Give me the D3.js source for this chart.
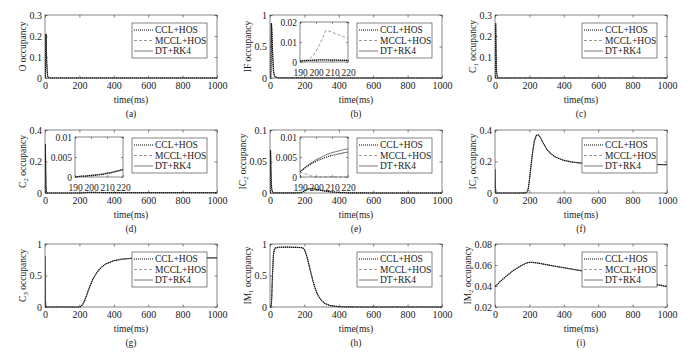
<!DOCTYPE html>
<html><head><meta charset="utf-8">
<script src="https://cdn.jsdelivr.net/npm/d3@7"></script>
<style>
body{margin:0;background:#fff}
svg{display:block}
</style>
</head><body>
<svg id="c" width="691" height="360"></svg>
<script>
// ---------------- DATA ----------------
const timeMs = [0,1,2,3,4,5,6,8,10,15,20,25,30,50,100,150,180,190,195,200,205,210,220,230,240,250,260,270,280,300,320,350,400,450,500,600,700,800,900,1000];

const occO   = [0,0.005,0.02,0.08,0.15,0.2,0.21,0.14,0.07,0.01,0.001,0,0,0,0,0,0,0,0,0,0,0,0,0,0,0,0,0,0,0,0,0,0,0,0,0,0,0,0,0];
const occIF  = [0,0,0.001,0.005,0.02,0.08,0.3,0.87,0.8,0.4,0.12,0.04,0.015,0.002,0.0008,0.0005,0.0005,0.0005,0.0008,0.001,0.001,0.0009,0.0008,0.0006,0.0005,0.0004,0.0003,0.0003,0.0002,0.0002,0.0001,0.0001,0,0,0,0,0,0,0,0];
const occC1  = [0,0.06,0.17,0.24,0.26,0.22,0.16,0.06,0.02,0.001,0,0,0,0,0,0,0,0,0,0,0,0,0,0,0,0,0,0,0,0,0,0,0,0,0,0,0,0,0,0];
const occC2  = [0,0.27,0.31,0.24,0.15,0.08,0.04,0.008,0.001,0,0,0,0,0,0,0,0.0001,0.0001,0.0002,0.0004,0.0006,0.0009,0.0018,0.0026,0.0032,0.0036,0.0038,0.0038,0.0037,0.0034,0.0031,0.0028,0.0025,0.0023,0.0022,0.0021,0.0021,0.0021,0.0021,0.0021];
const occIC2 = [0,0.045,0.065,0.068,0.06,0.045,0.033,0.015,0.006,0.001,0.0003,0.0002,0.0001,0.0001,0.0001,0.0002,0.0005,0.0013,0.0027,0.0037,0.0045,0.0052,0.0062,0.0067,0.0068,0.0066,0.0062,0.0057,0.0051,0.004,0.003,0.0019,0.0008,0.0003,0.0001,0,0,0,0,0];
const occIC3 = [0.15,0.1,0.06,0.03,0.015,0.007,0.003,0.001,0,0,0,0,0,0,0,0,0.001,0.01,0.04,0.08,0.13,0.18,0.27,0.335,0.365,0.37,0.36,0.34,0.318,0.28,0.254,0.229,0.207,0.196,0.19,0.185,0.183,0.182,0.181,0.18];
const occC3  = [0.8,0.45,0.2,0.08,0.03,0.01,0.003,0.0005,0,0,0,0,0,0,0,0,0,0,0,0.001,0.004,0.012,0.045,0.1,0.17,0.25,0.32,0.39,0.45,0.54,0.61,0.68,0.735,0.76,0.772,0.779,0.78,0.78,0.78,0.78];
const occIM1 = [0,0,0,0,0.001,0.003,0.01,0.05,0.15,0.55,0.83,0.91,0.935,0.948,0.95,0.947,0.943,0.938,0.93,0.91,0.88,0.84,0.74,0.63,0.52,0.41,0.32,0.24,0.18,0.1,0.055,0.022,0.005,0.001,0,0,0,0,0,0];
const occIM2 = [0.04,0.04,0.0401,0.0402,0.0402,0.0403,0.0404,0.0406,0.0409,0.0417,0.0426,0.0434,0.0442,0.0472,0.054,0.0592,0.0616,0.0622,0.0624,0.0625,0.0625,0.0625,0.0624,0.0622,0.062,0.0618,0.0615,0.0612,0.0609,0.0603,0.0597,0.0588,0.0574,0.056,0.0546,0.0518,0.0489,0.0458,0.0427,0.0395];

// zoomed insets (190-220 ms)
const insetTime = [190,192,194,196,198,200,202,204,206,208,210,212,214,216,218,220];
const insetIF_CCL  = [0.0005,0.0006,0.0007,0.0008,0.0009,0.001,0.001,0.001,0.001,0.001,0.0009,0.0009,0.0009,0.0008,0.0008,0.0008];
const insetIF_MCCL = [0.0005,0.0007,0.001,0.0017,0.0031,0.0053,0.0083,0.0118,0.0156,0.0155,0.0149,0.0143,0.0137,0.0131,0.0125,0.0119];
const insetIF_DT   = [0.0005,0.0006,0.0007,0.0008,0.0009,0.001,0.0011,0.0011,0.0011,0.001,0.001,0.001,0.0009,0.0009,0.0009,0.0008];
const insetC2_CCL  = [0.0001,0.0001,0.0002,0.0002,0.0003,0.0004,0.0004,0.0005,0.0006,0.0007,0.0009,0.001,0.0012,0.0014,0.0016,0.0018];
const insetC2_MCCL = [0.0001,0.0001,0.0002,0.0002,0.0003,0.0004,0.0004,0.0005,0.0006,0.0007,0.0009,0.001,0.0012,0.0014,0.0016,0.0018];
const insetC2_DT   = [0.0001,0.0001,0.0002,0.0002,0.0003,0.0004,0.0005,0.0006,0.0007,0.0008,0.001,0.0011,0.0013,0.0015,0.0017,0.0019];
const insetIC2_CCL  = [0.0013,0.0019,0.0025,0.003,0.0035,0.0039,0.0043,0.0046,0.0049,0.0052,0.0054,0.0056,0.0058,0.0059,0.0061,0.0062];
const insetIC2_MCCL = [0.0013,0.001,0.0007,0.0004,0.0001,0,0,0,0,0,0,0,0,0,0,0];
const insetIC2_DT   = [0.0013,0.002,0.0027,0.0033,0.0038,0.0043,0.0047,0.0051,0.0055,0.0058,0.0061,0.0063,0.0065,0.0067,0.0069,0.007];

const seriesNames = ["CCL+HOS","MCCL+HOS","DT+RK4"];
const xTicks = [0,200,400,600,800,1000];
const insetXTicks = [190,200,210,220];
const captions = ["(a)","(b)","(c)","(d)","(e)","(f)","(g)","(h)","(i)"];
const yLabelMain = ["O","IF","C","C","IC","IC","C","IM","IM"];
const yLabelSub  = ["","","1","2","2","3","3","1","2"];
const yDomains = [[0,0.3],[0,1],[0,0.3],[0,0.4],[0,0.1],[0,0.4],[0,1],[0,1],[0.02,0.08]];
const yTicks = [[0,0.1,0.2,0.3],[0,0.5,1],[0,0.1,0.2,0.3],[0,0.2,0.4],[0,0.05,0.1],[0,0.2,0.4],[0,0.5,1],[0,0.5,1],[0.02,0.04,0.06,0.08]];
const panelValues = [occO,occIF,occC1,occC2,occIC2,occIC3,occC3,occIM1,occIM2];
const insets = {
  1: {yDomain:[0,0.02], yTicks:[0,0.01,0.02], series:[insetIF_CCL,insetIF_MCCL,insetIF_DT]},
  3: {yDomain:[0,0.01], yTicks:[0,0.005,0.01], series:[insetC2_CCL,insetC2_MCCL,insetC2_DT]},
  4: {yDomain:[0,0.01], yTicks:[0,0.005,0.01], series:[insetIC2_CCL,insetIC2_MCCL,insetIC2_DT]}
};

// ---------------- STYLE / LAYOUT ----------------
const FONT = '"Liberation Serif","Times New Roman",Times,serif';
const FS = 9.5, FST = 10, FSI = 9.5;
const TXT = "#1a1a1a";
const AX = "#333";
const styles = [
  {stroke:"#000", dash:"1,1", w:1.2},
  {stroke:"#8f8f8f", dash:"3,2", w:0.9},
  {stroke:"#555", dash:null, w:0.8}
];
const drawOrder = [2,1,0];
const colLeft = [45,270,495], plotW = 172;
const rowTop = [15,130,244], plotH = 63;
const fmt = d3.format("~g");

const svg = d3.select("#c");
const defs = svg.append("defs");

function styleAxis(sel, fs){
  sel.select(".domain").remove();
  sel.selectAll("line").attr("stroke",AX).attr("stroke-width",0.6);
  sel.selectAll("text").attr("fill",TXT).style("font-family",FONT).style("font-size",fs+"px");
  sel.attr("font-family",null).attr("font-size",null);
}

function drawFrame(g, x, y, xt, yt, tick, pad, fs){
  const [x0,x1] = x.range(), [yb,yt0] = y.range();
  const b = g.append("g").attr("transform",`translate(0,${yb})`)
    .call(d3.axisBottom(x).tickValues(xt).tickSizeInner(-tick).tickSizeOuter(0).tickPadding(pad).tickFormat(fmt));
  styleAxis(b, fs);
  const t = g.append("g").attr("transform",`translate(0,${yt0})`)
    .call(d3.axisTop(x).tickValues(xt).tickSizeInner(-tick).tickSizeOuter(0).tickFormat(()=>""));
  styleAxis(t, fs);
  const l = g.append("g").attr("transform",`translate(${x0},0)`)
    .call(d3.axisLeft(y).tickValues(yt).tickSizeInner(-tick).tickSizeOuter(0).tickPadding(3).tickFormat(fmt));
  styleAxis(l, fs);
  const r = g.append("g").attr("transform",`translate(${x1},0)`)
    .call(d3.axisRight(y).tickValues(yt).tickSizeInner(-tick).tickSizeOuter(0).tickFormat(()=>""));
  styleAxis(r, fs);
  g.append("rect").attr("x",x0).attr("y",yt0).attr("width",x1-x0).attr("height",yb-yt0)
    .attr("fill","none").attr("stroke",AX).attr("stroke-width",0.6);
  return l;
}

function drawLines(g, x, y, xs, seriesList){
  drawOrder.forEach(k=>{
    const vals = seriesList[k];
    const line = d3.line().x((d,i)=>x(xs[i])).y(d=>y(d));
    const s = styles[k];
    g.append("path").datum(vals).attr("d",line).attr("fill","none")
      .attr("stroke",s.stroke).attr("stroke-width",s.w)
      .attr("stroke-dasharray",s.dash);
  });
}

panelValues.forEach((vals, i)=>{
  const L = colLeft[i%3], T = rowTop[Math.floor(i/3)];
  const x = d3.scaleLinear().domain([0,1000]).range([L, L+plotW]);
  const y = d3.scaleLinear().domain(yDomains[i]).range([T+plotH, T]);
  const g = svg.append("g");
  g.append("rect").attr("x",L).attr("y",T).attr("width",plotW).attr("height",plotH).attr("fill","#fff");
  const cid = "clip"+i;
  defs.append("clipPath").attr("id",cid).append("rect")
    .attr("x",L).attr("y",T-1).attr("width",plotW+1).attr("height",plotH+2);
  const lg = g.append("g").attr("clip-path",`url(#${cid})`);
  drawLines(lg, x, y, timeMs, [vals,vals,vals]);
  const leftAxis = drawFrame(g, x, y, xTicks, yTicks[i], 2.5, 4, FST);

  let maxW = 0;
  leftAxis.selectAll("text").each(function(){ maxW = Math.max(maxW, this.getBBox().width); });
  const lx = L - 3 - maxW - 4;
  const ly = T + plotH/2;
  const yl = g.append("text").attr("transform",`translate(${lx},${ly}) rotate(-90)`)
    .attr("text-anchor","middle").attr("fill",TXT)
    .style("font-family",FONT).style("font-size",FS+"px");
  yl.append("tspan").text(yLabelMain[i]);
  if (yLabelSub[i]) {
    yl.append("tspan").attr("dy",2.5).style("font-size",(FS*0.72)+"px").text(yLabelSub[i]);
    yl.append("tspan").attr("dy",-2.5).text(" occupancy");
  } else {
    yl.append("tspan").text(" occupancy");
  }

  g.append("text").attr("x",L+plotW/2).attr("y",T+plotH+25).attr("text-anchor","middle")
    .attr("fill",TXT).style("font-family",FONT).style("font-size",FS+"px").text("time(ms)");
  g.append("text").attr("x",L+plotW/2).attr("y",T+plotH+39).attr("text-anchor","middle")
    .attr("fill",TXT).style("font-family",FONT).style("font-size",FS+"px").text(captions[i]);

  const ins = insets[i];
  if (ins) {
    const iL = L+30, iW = 48, iT = T+7, iH = 40;
    const ix = d3.scaleLinear().domain([190,220]).range([iL, iL+iW]);
    const iy = d3.scaleLinear().domain(ins.yDomain).range([iT+iH, iT]);
    const ig = g.append("g");
    ig.append("rect").attr("x",iL).attr("y",iT).attr("width",iW).attr("height",iH).attr("fill","#fff");
    const icid = "iclip"+i;
    defs.append("clipPath").attr("id",icid).append("rect")
      .attr("x",iL).attr("y",iT-1).attr("width",iW+1).attr("height",iH+2);
    const il = ig.append("g").attr("clip-path",`url(#${icid})`);
    drawLines(il, ix, iy, insetTime, ins.series);
    drawFrame(ig, ix, iy, insetXTicks, ins.yTicks, 1.8, 7.5, FSI);
  }

  const lgd = g.append("g").attr("transform",`translate(${L+87},${T+8})`);
  lgd.append("rect").attr("width",75).attr("height",35).attr("fill","#fff")
    .attr("stroke",AX).attr("stroke-width",0.6);
  seriesNames.forEach((n,k)=>{
    const yy = 7 + k*10.5;
    const s = styles[k];
    lgd.append("line").attr("x1",2).attr("x2",21).attr("y1",yy).attr("y2",yy)
      .attr("stroke",s.stroke).attr("stroke-width",s.w).attr("stroke-dasharray",s.dash);
    lgd.append("text").attr("x",23).attr("y",yy).attr("dy","0.35em").attr("fill",TXT)
      .style("font-family",FONT).style("font-size",FS+"px").text(n);
  });
});
</script>
</body></html>
